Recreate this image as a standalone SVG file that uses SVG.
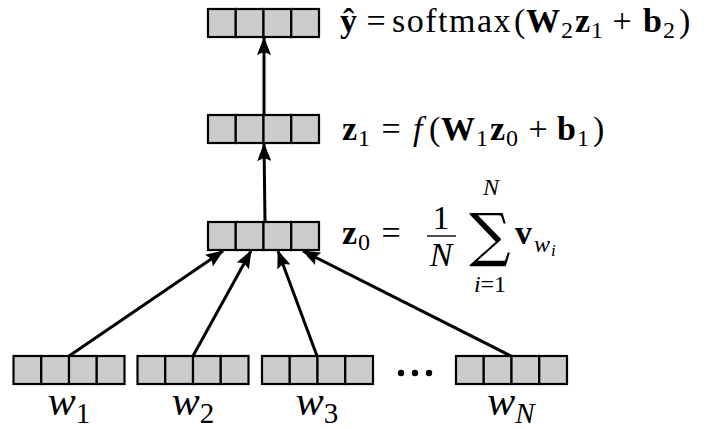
<svg xmlns="http://www.w3.org/2000/svg" width="708" height="429" viewBox="0 0 708 429">
<defs>
<style>
.cell{fill:#cccccc;stroke:#000;stroke-width:2.2}
.edge{stroke:#000;stroke-width:3;fill:none;marker-end:url(#ah)}
.m{font-family:"Liberation Serif","DejaVu Serif",serif;fill:#000}
.L{font-size:34px}
.s{font-size:24px}
.ss{font-size:17px}
.W{font-size:42px}
.Ws{font-size:29px}
.b{font-weight:bold}
.i{font-style:italic}
.c{text-anchor:middle}
</style>
<marker id="ah" markerUnits="userSpaceOnUse" markerWidth="18" markerHeight="14" refX="17" refY="7" orient="auto" viewBox="0 0 18 14">
<path d="M0,0 L18,7 L0,14 L3,7 z" fill="#000"/>
</marker>
<g id="vec">
<rect class="cell" x="0" y="0" width="27.75" height="28"/>
<rect class="cell" x="27.75" y="0" width="27.75" height="28"/>
<rect class="cell" x="55.5" y="0" width="27.75" height="28"/>
<rect class="cell" x="83.25" y="0" width="27.75" height="28"/>
</g>
</defs>
<rect width="708" height="429" fill="#fff"/>

<g id="connectors">
<path class="edge" d="M265,222 L264,144"/>
<path class="edge" d="M264,115 L264,38"/>
<path class="edge" d="M69,356 L223,251"/>
<path class="edge" d="M193,356 L251,251"/>
<path class="edge" d="M317,356 L278,251"/>
<path class="edge" d="M511,356 L303,251"/>
</g>

<g id="y_hat">
<use href="#vec" x="208" y="9"/>
<text class="m L b" x="340" y="32">ŷ</text>
<text class="m L c" x="376" y="32">=</text>
<text class="m L" x="392" y="32" letter-spacing="1.5">softmax</text>
<text class="m L" x="514" y="32">(</text>
<text class="m L b" x="526" y="32">W</text>
<text class="m s" x="561" y="38">2</text>
<text class="m L b" x="575" y="32">z</text>
<text class="m s" x="591" y="38">1</text>
<text class="m L c" x="622" y="32">+</text>
<text class="m L b" x="643" y="32">b</text>
<text class="m s" x="663" y="38">2</text>
<text class="m L" x="679" y="32">)</text>
</g>

<g id="z1">
<use href="#vec" x="208" y="115"/>
<text class="m L b" x="342" y="140">z</text>
<text class="m s" x="358" y="146">1</text>
<text class="m L c" x="391" y="140">=</text>
<text class="m L i" x="413" y="140">f</text>
<text class="m L" x="429" y="140">(</text>
<text class="m L b" x="441" y="140">W</text>
<text class="m s" x="476" y="146">1</text>
<text class="m L b" x="490" y="140">z</text>
<text class="m s" x="506" y="146">0</text>
<text class="m L c" x="538" y="140">+</text>
<text class="m L b" x="557" y="140">b</text>
<text class="m s" x="577" y="146">1</text>
<text class="m L" x="593" y="140">)</text>
</g>

<g id="z0">
<use href="#vec" x="208" y="222"/>
<text class="m L b" x="342" y="244">z</text>
<text class="m s" x="358" y="250">0</text>
<text class="m L c" x="391" y="244">=</text>
<text class="m L c" x="441" y="229">1</text>
<line x1="427" y1="236" x2="456" y2="236" stroke="#000" stroke-width="1.4"/>
<text class="m L i c" x="441" y="266">N</text>
<text x="490" y="255" font-family="'DejaVu Serif',serif" font-size="58" text-anchor="middle">∑</text>
<text class="m i c s" x="491" y="195">N</text>
<text class="m c s" x="490" y="292"><tspan class="i">i</tspan>=1</text>
<text class="m L b" x="515" y="244">v</text>
<text class="m i s" x="534" y="252">w</text>
<text class="m i ss" x="551" y="256">i</text>
</g>

<g id="w1">
<use href="#vec" x="13.5" y="356"/>
<text class="m W c" x="69" y="415"><tspan class="i">w</tspan><tspan class="Ws" dy="8">1</tspan></text>
</g>
<g id="w2">
<use href="#vec" x="137.5" y="356"/>
<text class="m W c" x="193" y="415"><tspan class="i">w</tspan><tspan class="Ws" dy="8">2</tspan></text>
</g>
<g id="w3">
<use href="#vec" x="262" y="356"/>
<text class="m W c" x="317" y="415"><tspan class="i">w</tspan><tspan class="Ws" dy="8">3</tspan></text>
</g>
<g id="dots">
<circle cx="401" cy="373" r="3.2"/>
<circle cx="415" cy="373" r="3.2"/>
<circle cx="429" cy="373" r="3.2"/>
</g>
<g id="wN">
<use href="#vec" x="456" y="356"/>
<text class="m W c" x="511" y="415"><tspan class="i">w</tspan><tspan class="i Ws" dy="8">N</tspan></text>
</g>
</svg>
